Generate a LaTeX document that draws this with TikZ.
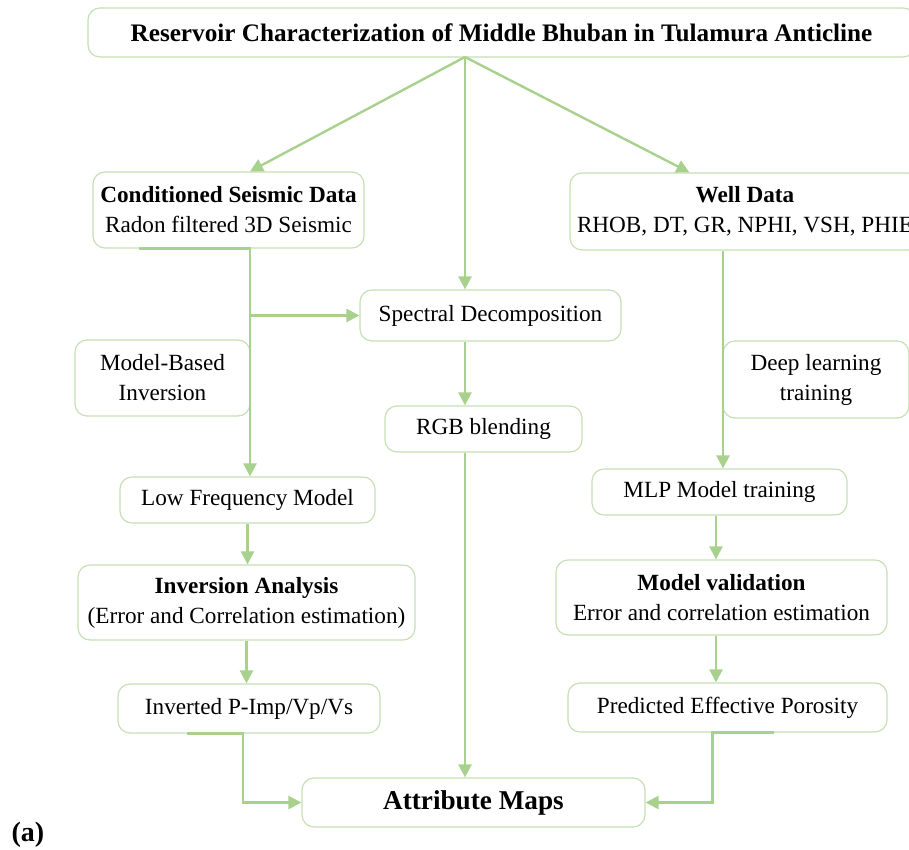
\documentclass[tikz,border=0pt]{standalone}
\usepackage{fontspec}
\setmainfont{Liberation Serif}
\usetikzlibrary{arrows.meta,calc}
\definecolor{linegreen}{HTML}{A9D18E}
\definecolor{boxgreen}{HTML}{C5E0B4}
\tikzset{
  flowbox/.style={draw=boxgreen, line width=0.6pt, rounded corners=6pt, inner sep=0pt,
    align=center, font=\fontsize{11.6}{15}\selectfont},
  flowline/.style={draw=linegreen, line width=1.2pt},
  flowarrow/.style={flowline, -{Triangle[length=6.5pt,width=6.5pt]}}
}
\begin{document}
\begin{tikzpicture}[x=0.5pt,y=-0.5pt]
  \clip (0,0) rectangle (909,850);

  % Titulek
  \node[flowbox, minimum width=413.5pt, minimum height=24.5pt, font=\fontsize{12.6}{15}\selectfont\bfseries]
    (title) at (501.5,32.5) {Reservoir Characterization of Middle Bhuban in Tulamura Anticline};
  \coordinate (apex) at (465,57);

  % sloupce spojnic
  \coordinate (lc) at (250,0);
  \coordinate (mc) at (465,0);
  \coordinate (rc) at (723,0);
  \coordinate (rv) at (716,0);

  % vstupni data
  \node[flowbox, minimum width=135.5pt, minimum height=38pt] (seis) at (228.5,210)
    {\textbf{Conditioned Seismic Data}\\Radon filtered 3D Seismic};
  \node[flowbox, minimum width=175pt, minimum height=38.5pt] (well) at (745,211.5)
    {\textbf{Well Data}\\RHOB, DT, GR, NPHI, VSH, PHIE};

  % prostredni vetev
  \node[flowbox, minimum width=130.5pt, minimum height=25.5pt] (spec) at (490.5,315.5) {Spectral Decomposition};
  \node[flowbox, minimum width=98.5pt, minimum height=23pt] (rgb) at (483.5,429) {RGB blending};

  % leva vetev
  \node[flowbox, minimum width=87.5pt, minimum height=38pt] (mbi) at (162.5,378) {Model-Based\\Inversion};
  \node[flowbox, minimum width=127.5pt, minimum height=23pt] (lfm) at (247.5,500) {Low Frequency Model};
  \node[flowbox, minimum width=168.5pt, minimum height=37.5pt] (inv) at (246.5,602.5)
    {\textbf{Inversion Analysis}\\(Error and Correlation estimation)};
  \node[flowbox, minimum width=131pt, minimum height=24.5pt] (pimp) at (249,708.5) {Inverted P-Imp/Vp/Vs};

  % prava vetev
  \node[flowbox, minimum width=93pt, minimum height=38.5pt] (dlt) at (816,379.5) {Deep learning\\training};
  \node[flowbox, minimum width=127.5pt, minimum height=23pt] (mlp) at (719.5,492) {MLP Model training};
  \node[flowbox, minimum width=165.5pt, minimum height=37.5pt] (val) at (721.5,597.5)
    {\textbf{Model validation}\\Error and correlation estimation};
  \node[flowbox, minimum width=159.5pt, minimum height=24.5pt] (poro) at (727.5,707.5) {Predicted Effective Porosity};

  % vysledek
  \node[flowbox, minimum width=171.5pt, minimum height=24.5pt, font=\fontsize{13.6}{16}\selectfont\bfseries]
    (att) at (473.5,802.5) {Attribute Maps};
  \node[font=\fontsize{14}{16}\selectfont\bfseries] (lbl) at (28,835) {(a)};

  % spojnice z titulku
  \draw[flowarrow] (apex) -- (lc |- seis.north);
  \draw[flowarrow] (apex) -- (mc |- spec.north);
  \draw[flowarrow] (apex) -- ($(well.north west)+(120,0)$);

  % leva vetev
  \draw[flowarrow] ($(seis.south west)+(47,0)$) -- (lc |- seis.south) -- (lc |- lfm.north);
  \draw[flowarrow] (lc |- spec.west) -- (spec.west);
  \draw[flowarrow] (lfm.south) -- (lfm.south |- inv.north);
  \draw[flowarrow] (inv.south) -- (inv.south |- pimp.north);
  \draw[flowarrow] ($(pimp.south west)+(70,0)$) -- ($(pimp.south)+(-6,0)$) |- (att.west);

  % prostredni vetev
  \draw[flowarrow] (mc |- spec.south) -- (mc |- rgb.north);
  \draw[flowarrow] (mc |- rgb.south) -- (mc |- att.north);

  % prava vetev
  \draw[flowarrow] (rc |- well.south) -- (rc |- mlp.north);
  \draw[flowarrow] (rv |- mlp.south) -- (rv |- val.north);
  \draw[flowarrow] (rv |- val.south) -- (rv |- poro.north);
  \draw[flowarrow] ($(poro.south east)+(-114,0)$) -- ($(poro.south)+(-15,0)$) |- (att.east);
\end{tikzpicture}
\end{document}
